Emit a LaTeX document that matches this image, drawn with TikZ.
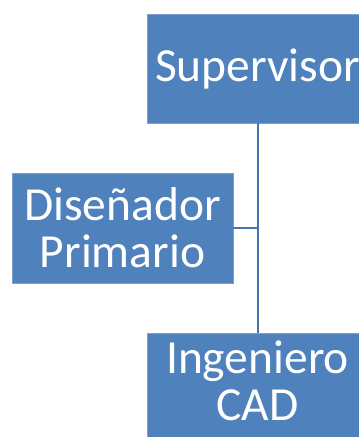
\documentclass[tikz,border=0pt]{standalone}
\usepackage{fontspec}
\setmainfont{Carlito}
\definecolor{boxblue}{HTML}{4F81BD}
\definecolor{linkblue}{HTML}{4675AE}
\begin{document}
\begin{tikzpicture}[x=1pt,y=1pt,
  orgbox/.style={rectangle, fill=boxblue, draw=boxblue!75!white, line width=0.6pt,
    minimum width=221pt, minimum height=109pt, inner sep=0pt, text=white,
    align=center, font=\fontsize{47.5}{47}\selectfont},
  link/.style={draw=linkblue, line width=2pt}]
\useasboundingbox (0,0) rectangle (359,437);
\clip (0,0) rectangle (359,437);
\node[orgbox] (sup) at (257.5,368.5) {Supervisor};
\node[orgbox, minimum height=110pt] (dis) at (122.5,209) {Diseñador\\Primario};
\node[orgbox] (ing) at (257.5,49.5) {\raisebox{4pt}{\begin{tabular}{@{}c@{}}Ingeniero\\CAD\end{tabular}}};
\coordinate (j) at (sup.south |- dis.east);
\draw[link] (sup.south) -- (ing.north);
\draw[link] (dis.east) -- (j);
\end{tikzpicture}
\end{document}
